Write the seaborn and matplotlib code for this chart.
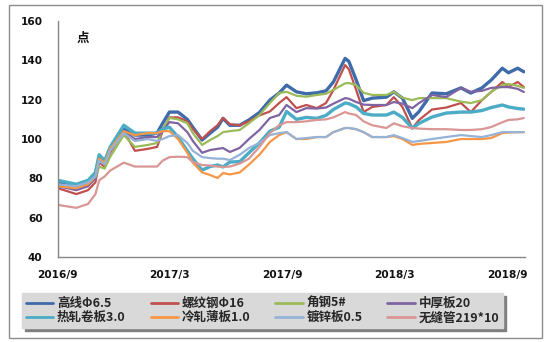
import matplotlib
matplotlib.use("Agg")
import matplotlib.pyplot as plt
from matplotlib.patches import Rectangle
import seaborn as sns
import pandas as pd

dates = ["2016-09-01", "2016-10-01", "2016-10-20", "2016-11-01", "2016-11-07", "2016-11-16",
         "2016-11-25", "2016-12-17", "2017-01-04", "2017-01-25", "2017-02-09", "2017-02-18",
         "2017-03-01", "2017-03-15", "2017-03-30", "2017-04-08", "2017-04-23", "2017-05-06",
         "2017-05-18", "2017-05-27", "2017-06-07", "2017-06-23", "2017-07-08", "2017-07-25",
         "2017-08-11", "2017-08-26", "2017-09-07", "2017-09-23", "2017-10-09", "2017-10-26",
         "2017-11-10", "2017-11-22", "2017-12-11", "2017-12-17", "2017-12-29", "2018-01-10",
         "2018-01-24", "2018-02-16", "2018-02-28", "2018-03-14", "2018-03-30", "2018-04-10",
         "2018-05-01", "2018-05-24", "2018-06-17", "2018-07-03", "2018-07-21", "2018-08-05",
         "2018-08-23", "2018-09-02", "2018-09-17", "2018-09-27"]

gaoxian = [78, 76, 78, 82, 91, 88, 95, 105, 102, 102, 103, 108, 113.7, 113.7, 110, 106, 99.5, 103,
           106, 110.5, 107, 107, 109.7, 113.5, 119.8, 123.4, 127.4, 124, 123, 123.5, 124.5, 129,
           141, 139.5, 130, 119.5, 120.8, 121.3, 124, 120.8, 110.5, 114, 123.4, 123, 126, 123.4,
           126, 130, 136, 133.7, 136, 134.2]
luowengang = [75, 72, 74, 78, 88, 86, 93, 104, 94, 95, 96, 104, 111, 111, 109, 105, 100, 104,
              107, 110.7, 107.5, 107, 109, 112, 114, 118.3, 121.3, 115.7, 117.3, 115.7, 118.3, 124.9,
              137.6, 135.5, 124.9, 113.7, 116.3, 117.3, 121.3, 116.3, 105.5, 109.7, 115, 116, 118.3,
              113.7, 119.8, 123.9, 129, 126.4, 129, 126.4]
jiaogang = [77, 75, 77, 80, 86, 85, 91, 102, 96, 97, 98, 105, 110.7, 110, 108, 103, 97, 99.5,
            101.5, 103.5, 104, 104.6, 108, 112.2, 118.3, 123.4, 124, 122, 121.5, 122.4, 123, 125,
            128.3, 128.5, 127.4, 123.5, 122.4, 122.4, 124, 121, 119.8, 120.8, 120.8, 120.8, 119,
            118.3, 119.8, 124, 127.5, 128, 127, 126]
zhonghouban = [76, 74, 76, 80, 90, 88, 94, 104, 100, 101, 101, 104, 108.6, 108, 103.5, 99, 93, 94.4,
               95, 95.4, 93.4, 95.5, 100, 104.6, 110.7, 112.2, 117.3, 113.7, 115.7, 115.5, 116, 118,
               120.8, 120.5, 118.8, 117.5, 117.3, 117.3, 118.8, 118, 115.7, 118.3, 122.4, 121.3, 126,
               124, 124.5, 126, 126.4, 126.4, 125.5, 123.9]
rezha = [79, 77, 79, 83, 92, 89, 96, 107, 103, 103, 103, 105, 106, 101, 94, 90, 84.2, 86,
         86.8, 85.8, 88.3, 88.5, 93, 98, 104, 106, 114, 110, 111, 110.5, 112, 115,
         118.3, 118, 116.3, 113, 112.2, 112.2, 113.7, 111, 105.5, 108, 111.2, 113.2, 113.7,
         113.7, 114.5, 116, 117.3, 116.3, 115.5, 115.2]
lengzha = [76, 75, 77, 81, 90, 88, 95, 104, 102, 103, 103, 104, 104, 100, 93, 88, 83, 81.7,
           80.2, 82.7, 82, 83, 87, 92, 98.5, 102, 103.5, 100, 100, 101, 101, 103.5,
           105.6, 105.6, 105, 103.5, 101, 101, 101.5, 100, 97, 97.5, 98, 98.5, 100,
           100, 100, 100.5, 103, 103.3, 103.5, 103.5]
duxin = [77, 76, 78, 81, 89, 87, 94, 103, 99, 100, 99, 100, 101.5, 102, 98, 94, 90.8, 90.3,
         90, 90, 89.3, 92, 95.4, 98, 102, 103, 103.5, 100, 100.5, 101, 101, 103.5,
         105.6, 105.6, 105, 103.5, 101, 101, 102, 100.5, 98.5, 99, 100, 101, 102,
         101.5, 101, 102, 103.5, 103.5, 103.5, 103.5]
wufeng = [66.5, 65, 67, 72, 79, 81, 84, 88, 86, 86, 86, 89, 90.8, 91, 90.8, 88.3, 86.8, 86.5,
          86, 85.8, 86, 87.5, 90, 96, 103, 107, 108.6, 108.6, 109, 109.7, 110, 111,
          113.7, 113, 112.2, 109, 107, 105.6, 108, 106.5, 105.6, 105.3, 105, 105, 104.6,
          104.6, 105, 106.1, 108.5, 109.7, 110, 110.7]

names = ["高线Φ6.5", "螺纹钢Φ16", "角钢5#", "中厚板20", "热轧卷板3.0", "冷轧薄板1.0", "镀锌板0.5", "无缝管219*10"]
series = [gaoxian, luowengang, jiaogang, zhonghouban, rezha, lengzha, duxin, wufeng]
colors = ["#3F6BAA", "#C0504D", "#9BBB59", "#8064A2", "#4BACC6", "#F79646", "#95B3D7", "#D99694"]
widths = [2.4, 1.6, 1.6, 1.6, 2.4, 1.6, 1.6, 1.6]
tick_dates = ["2016-09-01", "2017-03-01", "2017-09-01", "2018-03-01", "2018-09-01"]
tick_labels = ["2016/9", "2017/3", "2017/9", "2018/3", "2018/9"]

sns.set_theme(style="white")
plt.rcParams["font.family"] = ["Noto Sans CJK SC", "DejaVu Sans"]

rows = []
for n, vals in zip(names, series):
    for d, v in zip(dates, vals):
        rows.append({"date": pd.Timestamp(d), "value": v, "series": n})
df = pd.DataFrame(rows)

fig = plt.figure(figsize=(5.51, 3.42), dpi=100)
ax = fig.add_axes([0.105, 0.2485, 0.848, 0.69])

for n, c, w in zip(names, colors, widths):
    sns.lineplot(data=df[df["series"] == n], x="date", y="value", color=c, linewidth=w,
                 ax=ax, label=n, legend=False)

ax.set_ylim(40, 160)
ax.set_yticks([40, 60, 80, 100, 120, 140, 160])
ax.set_xlim(pd.Timestamp("2016-09-01"), pd.Timestamp("2018-09-29"))
ax.set_xticks([pd.Timestamp(t) for t in tick_dates])
ax.set_xticklabels(tick_labels)
ax.set_xlabel("")
ax.set_ylabel("")
for s in ["top", "right"]:
    ax.spines[s].set_visible(False)
for s in ["left", "bottom"]:
    ax.spines[s].set_color("#868686")
    ax.spines[s].set_linewidth(1.0)
ax.tick_params(axis="y", direction="out", length=4, color="#868686", pad=7,
               labelsize=7.6, labelcolor="#111111")
ax.tick_params(axis="x", direction="in", length=4, color="#868686", pad=9,
               labelsize=7.6, labelcolor="#111111")
for lab in ax.get_xticklabels() + ax.get_yticklabels():
    lab.set_fontweight("bold")
    lab.set_family("DejaVu Sans")

ax.text(0.04, 0.955, "点", transform=ax.transAxes, fontsize=9, fontweight="bold",
        ha="left", va="top", color="#111111")

lines = ax.get_lines()[:8]
order = [0, 4, 1, 5, 2, 6, 3, 7]
leg = fig.legend([lines[i] for i in order], [names[i] for i in order],
                 loc="lower left", ncol=4,
                 bbox_to_anchor=(0.04, 0.041, 0.873, 0.117), mode="expand",
                 borderaxespad=0, frameon=True, fancybox=False,
                 shadow={"color": "#7f7f7f", "alpha": 1.0},
                 prop={"size": 9, "weight": "bold"},
                 handlelength=2.2, handletextpad=0.3, columnspacing=1.0,
                 labelspacing=0.1, borderpad=0.3)
leg.get_frame().set_facecolor("#D9D9D9")
leg.get_frame().set_edgecolor("#D9D9D9")
for lh in leg.get_lines():
    lh.set_linewidth(2.0)

fig.patches.append(Rectangle((9 / 551, 1 - 338 / 342), 533 / 551, 333 / 342,
                             transform=fig.transFigure, fill=False,
                             edgecolor="#8c8c8c", linewidth=1.0))

fig.savefig("out.png", dpi=100)
